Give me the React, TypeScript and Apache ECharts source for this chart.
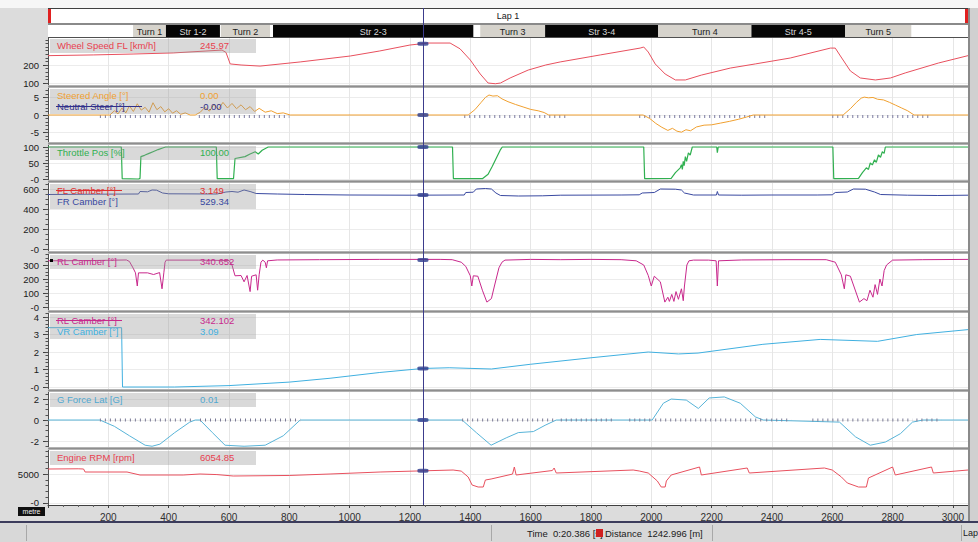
import React, { useEffect, useRef } from 'react';
import * as echarts from 'echarts';

const FONT = '"Liberation Sans", "DejaVu Sans", Arial, sans-serif';
const LAP_LENGTH = 3050;
const cursorDistance = 1242.996;
const cursorTimeText = '0:20.386 [s]';
const cursorDistText = '1242.996 [m]';

// ---- lap / segment bars ----
const lapNames = ['Lap 1'];
const lapStart = [0];
const lapEnd = [3050];

const segNames = ['Turn 1', 'Str 1-2', 'Turn 2', 'Str 2-3', 'Turn 3', 'Str 3-4', 'Turn 4', 'Str 4-5', 'Turn 5'];
const segStart = [282, 391, 573, 746, 1433, 1648, 2023, 2332, 2643];
const segEnd = [391, 570, 736, 1410, 1648, 2023, 2332, 2643, 2862];
const segIsTurn = [1, 0, 1, 0, 1, 0, 1, 0, 1];

// ---- channel data: [distance m, value] ----
const speedData = [
  [0, 252], [150, 256], [282, 261], [415, 267], [577, 283], [590, 270], [604, 206], [640, 200], [703, 194],
  [836, 217], [1002, 250], [1100, 278], [1200, 311], [1260, 322], [1333, 322], [1366, 290], [1400, 228],
  [1433, 150], [1459, 100], [1483, 96], [1500, 100], [1532, 128], [1592, 172], [1650, 200], [1698, 217],
  [1831, 256], [1963, 294], [1975, 300], [1990, 272], [2013, 206], [2046, 150], [2080, 117], [2113, 117],
  [2166, 144], [2262, 183], [2345, 206], [2461, 239], [2594, 294], [2610, 294], [2627, 250], [2660, 167],
  [2693, 128], [2743, 117], [2793, 128], [2842, 156], [2952, 211], [3050, 252],
];

const steerData = [
  [0, 0], [205, 0], [220, 1.2], [232, 0.3], [245, 2.0], [258, 0.6], [270, 2.6], [283, 1.0], [296, 3.2],
  [309, 1.4], [322, 2.2], [335, 0.8], [348, 3.5], [361, 1.5], [374, 2.4], [387, 0.9], [400, 1.8], [413, 0.5],
  [426, 1.2], [440, 0.2], [455, 0.6], [471, 0], [488, 0], [505, 0.8], [520, 2.2], [535, 1.1], [550, 3.0],
  [565, 1.6], [580, 3.6], [595, 2.0], [610, 3.3], [625, 1.8], [640, 2.9], [655, 1.5], [670, 2.4], [685, 1.0],
  [700, 1.9], [720, 0.8], [740, 1.2], [760, 0.4], [780, 0.6], [803, 0],
  [1393, 0], [1415, 1.5], [1435, 3.5], [1450, 5.0], [1462, 5.7], [1475, 5.4], [1490, 5.5], [1505, 4.6],
  [1525, 3.8], [1550, 3.0], [1575, 2.3], [1600, 1.6], [1625, 1.2], [1645, 0.7], [1660, 0],
  [1973, 0], [1995, -1.0], [2015, -2.4], [2035, -3.5], [2055, -4.4], [2070, -3.8], [2085, -4.6], [2100, -4.9],
  [2115, -4.2], [2130, -4.5], [2150, -3.4], [2175, -2.9], [2200, -2.8], [2230, -2.3], [2260, -1.8],
  [2290, -1.2], [2315, -0.6], [2338, 0],
  [2636, 0], [2660, 1.8], [2680, 3.6], [2696, 4.8], [2706, 5.1], [2720, 4.9], [2735, 5.0], [2750, 4.5],
  [2770, 4.3], [2790, 3.6], [2810, 2.8], [2830, 2.0], [2850, 1.2], [2871, 0], [3050, 0],
];

const neutralSteerData = [
  [172, -0.45], [450, -0.45], [460, '-'], [500, -0.45], [800, -0.45], [810, '-'], [1380, -0.45], [1720, -0.45],
  [1730, '-'], [1960, -0.45], [2380, -0.45], [2390, '-'], [2600, -0.45], [2930, -0.45],
];

const throttleData = [
  [0, 100], [243, 100], [246, 1], [300, 0], [305, 2], [308, 70], [320, 74], [335, 80], [350, 86], [365, 92],
  [380, 97], [390, 100], [558, 100], [561, 1], [615, 1], [620, 64], [653, 70], [670, 78], [687, 85], [697, 78],
  [710, 90], [730, 100], [1341, 100], [1344, 1], [1440, 1], [1459, 15], [1473, 40], [1486, 65], [1499, 90],
  [1506, 100], [1975, 100], [1978, 1], [2066, 2], [2080, 20], [2096, 35], [2100, 45], [2103, 30], [2106, 55],
  [2109, 42], [2113, 70], [2117, 55], [2123, 82], [2129, 75], [2136, 100], [2217, 100], [2219, 82], [2222, 100],
  [2602, 100], [2605, 1], [2687, 2], [2700, 20], [2713, 35], [2720, 30], [2726, 50], [2733, 44], [2740, 60],
  [2746, 52], [2753, 75], [2760, 68], [2766, 85], [2772, 80], [2776, 100], [3050, 100],
];

const frCamberData = [
  [0, 545], [150, 548], [300, 550], [305, 575], [330, 572], [345, 590], [360, 588], [380, 560], [400, 552],
  [560, 550], [590, 570], [610, 575], [630, 568], [650, 590], [670, 575], [690, 555], [760, 550], [850, 545],
  [1000, 540], [1200, 538], [1380, 540], [1385, 565], [1410, 568], [1420, 600], [1450, 605], [1470, 600],
  [1485, 560], [1500, 535], [1560, 530], [1640, 532], [1700, 538], [1900, 540], [1960, 542], [1970, 560],
  [2010, 565], [2030, 600], [2080, 598], [2100, 590], [2110, 560], [2140, 540], [2216, 540], [2219, 575],
  [2223, 540], [2300, 538], [2400, 540], [2550, 540], [2600, 542], [2610, 565], [2650, 570], [2670, 600],
  [2710, 598], [2740, 570], [2760, 545], [2850, 538], [2950, 535], [3050, 538],
];

const rlCamberData = [
  [0, 330], [150, 332], [260, 336], [270, 325], [282, 279], [290, 244], [296, 150], [300, 244], [330, 244],
  [350, 232], [370, 246], [378, 130], [384, 244], [388, 320], [392, 335], [500, 335], [600, 332], [610, 300],
  [620, 223], [640, 225], [650, 180], [660, 225], [670, 110], [675, 220], [690, 230], [695, 120], [700, 230],
  [706, 320], [712, 335], [720, 320], [724, 280], [728, 330], [760, 336], [900, 338], [1100, 340], [1300, 340],
  [1340, 338], [1370, 320], [1385, 290], [1400, 223], [1405, 150], [1410, 223], [1425, 220], [1440, 120],
  [1455, 35], [1470, 60], [1480, 150], [1495, 280], [1505, 320], [1515, 335], [1600, 340], [1700, 338],
  [1800, 340], [1900, 338], [1950, 330], [1975, 300], [1990, 225], [2000, 150], [2010, 220], [2030, 180],
  [2045, 35], [2055, 70], [2060, 40], [2068, 90], [2075, 40], [2082, 110], [2090, 55], [2100, 130], [2106, 45],
  [2110, 150], [2118, 300], [2125, 330], [2140, 335], [2190, 335], [2215, 330], [2219, 150], [2223, 330],
  [2300, 336], [2450, 338], [2580, 338], [2610, 320], [2630, 230], [2640, 130], [2645, 230], [2660, 220],
  [2690, 35], [2705, 60], [2715, 45], [2725, 120], [2735, 70], [2742, 160], [2750, 90], [2758, 200], [2765, 150],
  [2772, 260], [2780, 300], [2800, 335], [2900, 338], [3050, 340],
];

const vrCamberData = [
  [0, 3.39], [244, 3.39], [247, 0], [420, 0], [600, 0.08], [800, 0.28], [935, 0.5], [1100, 0.83], [1243, 1.06],
  [1330, 1.1], [1470, 1.03], [1600, 1.3], [1800, 1.67], [1990, 2.0], [2090, 1.89], [2155, 1.94], [2370, 2.44],
  [2560, 2.72], [2750, 2.61], [2880, 3.0], [3050, 3.28],
];

const gLatData = [
  [0, 0], [172, 0], [220, -0.6], [270, -1.5], [322, -2.4], [345, -2.5], [371, -2.3], [420, -1.2], [470, -0.2],
  [488, 0], [504, 0], [545, -1.2], [587, -2.4], [650, -2.5], [720, -2.4], [780, -1.5], [836, 0], [1373, 0],
  [1420, -1.2], [1469, -2.4], [1519, -1.7], [1559, -1.2], [1609, -1.1], [1648, -0.5], [1685, 0], [2003, 0],
  [2040, 1.6], [2066, 2.0], [2116, 1.9], [2156, 1.1], [2192, 2.1], [2242, 2.2], [2295, 1.6], [2345, 0.3],
  [2371, 0], [2624, -0.2], [2677, -1.6], [2726, -2.4], [2776, -2.1], [2826, -1.3], [2866, -0.2], [2900, 0],
  [3050, 0],
];

const gZoneData = [
  [172, 0], [481, 0], [490, '-'], [504, 0], [836, 0], [840, '-'], [1373, 0], [1685, 0], [1690, '-'], [1700, 0],
  [1875, 0], [1880, '-'], [1927, 0], [2003, 0], [2008, '-'], [2013, 0], [2371, 0], [2376, '-'], [2381, 0],
  [2464, 0], [2470, '-'], [2534, 0], [2866, 0], [2872, '-'], [2879, 0], [2962, 0],
];

const rpmData = [
  [0, 5862], [100, 5900], [118, 5862], [123, 5345], [262, 5345], [305, 4828], [448, 4828], [504, 5000],
  [560, 4900], [614, 4655], [800, 4750], [935, 5000], [1101, 5345], [1343, 5690], [1370, 5500], [1393, 4483],
  [1406, 3103], [1426, 2759], [1443, 2759], [1450, 3966], [1469, 4138], [1540, 4990], [1546, 6207],
  [1552, 4828], [1672, 5600], [1678, 6034], [1685, 5172], [1940, 5690], [1960, 5520], [1990, 5172],
  [2020, 3800], [2033, 2759], [2046, 2759], [2050, 3800], [2066, 4828], [2160, 6207], [2166, 4828],
  [2318, 6034], [2325, 5172], [2574, 6034], [2600, 5690], [2630, 4500], [2650, 3448], [2687, 2759],
  [2713, 2759], [2720, 4310], [2800, 6207], [2809, 4828], [2929, 6207], [2935, 5172], [3050, 5690],
];

// values of each panel's main trace at the cursor
const cursorValues = [318, 0, 100, 541, 335, 1.06, 0, 5550];

// ---- panel axes ----
const panelTops = [38, 88, 145, 183, 254, 313, 392, 450];
const panelBottoms = [85, 142, 180, 251, 310, 389, 447, 505];
const panelMins = [89, -7.7, -3.1, -20, -21.4, -0.114, -2.57, -345];
const panelMaxs = [350, 7.7, 106.25, 660, 378.6, 4.23, 2.67, 9140];
const panelTicks = [[100, 200], [-5, 0, 5], [0, 50, 100], [0, 200, 400, 600], [0, 100, 200, 300], [0, 1, 2, 3, 4], [-2, 0, 2], [0, 5000]];
const panelMinorSteps = [20, 1, 10, 50, 25, 0.2, 0.5, 1000];
const zeroTexts = ['0', '0', '-0', '-0', '-0', '-0', '0', '-0'];

const panelLabels = [
  [{ name: 'Wheel Speed FL [km/h]', value: '245.97', color: '#e8404f' }],
  [{ name: 'Steered Angle [°]', value: '0.00', color: '#f0a030' }, { name: 'Neutral Steer [°]', value: '-0.00', color: '#30308a', strike: true }],
  [{ name: 'Throttle Pos [%]', value: '100.00', color: '#30b050' }],
  [{ name: 'FL Camber [°]', value: '3.149', color: '#e03030', strike: true }, { name: 'FR Camber [°]', value: '529.34', color: '#3848a0' }],
  [{ name: 'RL Camber [°]', value: '340.652', color: '#c8288c' }],
  [{ name: 'RL Camber [°]', value: '342.102', color: '#c8288c', strike: true }, { name: 'VR Camber [°]', value: '3.09', color: '#40b0e0' }],
  [{ name: 'G Force Lat [G]', value: '0.01', color: '#50a8d0' }],
  [{ name: 'Engine RPM [rpm]', value: '6054.85', color: '#e8404f' }],
];

const range = (a: number, b: number, step: number) => {
  const out: number[] = [];
  const s = Math.ceil(a / step - 1e-9) * step;
  for (let v = s; v <= b + 1e-9; v += step) out.push(+v.toFixed(4));
  return out;
};

const GRID_LEFT = 48;
const GRID_RIGHT = 10;

function buildOption() {
  const grids: any[] = [];
  const xAxes: any[] = [];
  const yAxes: any[] = [];
  const series: any[] = [];
  const n = panelTops.length;

  for (let i = 0; i < n; i++) {
    const last = i === n - 1;
    grids.push({
      left: GRID_LEFT, right: GRID_RIGHT, top: panelTops[i], height: panelBottoms[i] - panelTops[i],
      show: true, backgroundColor: '#ffffff', borderWidth: 0, containLabel: false, outerBoundsMode: 'none',
    });
    xAxes.push({
      type: 'value', gridIndex: i, min: 0, max: LAP_LENGTH, interval: 200,
      axisLine: { show: last, onZero: false, lineStyle: { color: '#404040', width: 1 } },
      axisTick: { show: last, length: 3, lineStyle: { color: '#404040' } },
      minorTick: { show: last, splitNumber: 4, length: 2, lineStyle: { color: '#606060' } },
      axisLabel: {
        show: last, showMinLabel: false, showMaxLabel: false, fontSize: 10, color: '#303030',
        fontFamily: FONT, margin: 7, formatter: (v: number) => String(v),
      },
      splitLine: { show: true, lineStyle: { color: '#e6e6e6', width: 1 } },
    });
    const zt = zeroTexts[i];
    yAxes.push({
      type: 'value', gridIndex: i, min: panelMins[i], max: panelMaxs[i], position: 'left',
      axisLine: { show: true, onZero: false, lineStyle: { color: '#505050', width: 1 } },
      axisTick: { show: true, length: 5, customValues: panelTicks[i], lineStyle: { color: '#404040' } },
      axisLabel: {
        show: true, customValues: panelTicks[i], fontSize: 9.5, color: '#202020', fontFamily: FONT, margin: 9,
        formatter: (v: number) => (v === 0 ? zt : String(v)),
      },
      splitLine: { show: true, lineStyle: { color: '#ececec', width: 1 } },
    });
    yAxes.push({
      type: 'value', gridIndex: i, min: panelMins[i], max: panelMaxs[i], position: 'left',
      axisLine: { show: false },
      axisTick: { show: true, length: 2.5, customValues: range(panelMins[i], panelMaxs[i], panelMinorSteps[i]), lineStyle: { color: '#505050' } },
      axisLabel: { show: false },
      splitLine: { show: false },
    });
  }

  // lap bar grid (index n) and segment bar grid (index n+1)
  grids.push({ left: GRID_LEFT, right: GRID_RIGHT, top: 9, height: 14, show: true, backgroundColor: '#ffffff', borderWidth: 0, outerBoundsMode: 'none' });
  grids.push({ left: GRID_LEFT, right: GRID_RIGHT, top: 25, height: 12, show: true, backgroundColor: '#ffffff', borderWidth: 0, outerBoundsMode: 'none' });
  for (const gi of [n, n + 1]) {
    xAxes.push({ type: 'value', gridIndex: gi, min: 0, max: LAP_LENGTH, show: false });
    yAxes.push({ type: 'value', gridIndex: gi, min: 0, max: 1, show: false });
  }

  const line = (gi: number, data: any[], color: string, extra: any = {}) => ({
    type: 'line', xAxisIndex: gi, yAxisIndex: gi * 2, data, showSymbol: false, symbol: 'none',
    lineStyle: { width: 1, color }, itemStyle: { color }, silent: true, z: 3, connectNulls: false, ...extra,
  });

  series.push(line(0, speedData, '#e8505e'));
  series.push(line(1, neutralSteerData, '#6a6a98', { lineStyle: { width: 3, color: '#7a7aa0', type: [1, 4] } }));
  series.push(line(1, steerData, '#f0a030'));
  series.push(line(2, throttleData, '#30b050', { lineStyle: { width: 1.2, color: '#30b050' } }));
  series.push(line(3, frCamberData, '#3848a0'));
  series.push(line(4, rlCamberData, '#c8288c'));
  series.push(line(5, vrCamberData, '#40b0e0'));
  series.push(line(6, gLatData, '#58b4d8'));
  series.push(line(6, gZoneData, '#6a6a88', { lineStyle: { width: 3, color: '#7a7a96', type: [1, 4] } }));
  series.push(line(7, rpmData, '#e8505e'));

  for (let i = 0; i < n; i++) {
    series.push({
      type: 'scatter', xAxisIndex: i, yAxisIndex: i * 2, data: [[cursorDistance, cursorValues[i]]],
      symbol: 'roundRect', symbolSize: [11, 4], itemStyle: { color: '#2a3a8c' }, silent: true, z: 6,
    });
  }

  // lap bar
  series.push({
    type: 'custom', xAxisIndex: n, yAxisIndex: n * 2, silent: true, z: 4,
    data: lapNames.map((_, k) => [lapStart[k], lapEnd[k]]),
    renderItem: (params: any, api: any) => {
      const s = api.coord([api.value(0), 0]);
      const e = api.coord([api.value(1), 0]);
      const cs = params.coordSys;
      return {
        type: 'group',
        children: [
          { type: 'rect', shape: { x: s[0], y: cs.y, width: e[0] - s[0], height: cs.height }, style: { fill: '#ffffff' } },
          { type: 'rect', shape: { x: s[0], y: cs.y, width: 3, height: cs.height }, style: { fill: '#e02020' } },
          { type: 'rect', shape: { x: e[0] - 3, y: cs.y, width: 3, height: cs.height }, style: { fill: '#e02020' } },
          {
            type: 'text', x: (s[0] + e[0]) / 2, y: cs.y + cs.height / 2,
            style: { text: lapNames[params.dataIndex], align: 'center', verticalAlign: 'middle', fill: '#202020', font: `9px ${FONT}` },
          },
        ],
      };
    },
  });

  // segment bar
  series.push({
    type: 'custom', xAxisIndex: n + 1, yAxisIndex: (n + 1) * 2 - 1, silent: true, z: 4,
    data: segNames.map((_, k) => [segStart[k], segEnd[k], segIsTurn[k]]),
    renderItem: (params: any, api: any) => {
      const s = api.coord([api.value(0), 0]);
      const e = api.coord([api.value(1), 0]);
      const cs = params.coordSys;
      const turn = api.value(2) === 1;
      return {
        type: 'group',
        children: [
          { type: 'rect', shape: { x: s[0], y: cs.y, width: e[0] - s[0], height: cs.height }, style: { fill: turn ? '#d6d3cc' : '#060606' } },
          {
            type: 'text', x: (s[0] + e[0]) / 2, y: cs.y + cs.height / 2 + 0.5,
            style: { text: segNames[params.dataIndex], align: 'center', verticalAlign: 'middle', fill: turn ? '#202020' : '#d8d8d8', font: `9px ${FONT}` },
          },
        ],
      };
    },
  });

  return {
    animation: false,
    backgroundColor: '#dcdcdc',
    grid: grids,
    xAxis: xAxes,
    yAxis: yAxes,
    series,
  };
}

function buildGraphics(cx: number) {
  const g: any[] = [];
  const plotRight = 978 - GRID_RIGHT;
  // top white strip
  g.push({ type: 'rect', shape: { x: 0, y: 0, width: 978, height: 8 }, style: { fill: '#f6f6f6' }, z: 1 });
  g.push({ type: 'rect', shape: { x: GRID_LEFT, y: 8, width: plotRight - GRID_LEFT, height: 1 }, style: { fill: '#404040' }, z: 1 });
  g.push({ type: 'rect', shape: { x: GRID_LEFT, y: 23, width: plotRight - GRID_LEFT, height: 2 }, style: { fill: '#8a8a8a' }, z: 1 });
  g.push({ type: 'rect', shape: { x: GRID_LEFT, y: 37, width: plotRight - GRID_LEFT, height: 1 }, style: { fill: '#505050' }, z: 1 });
  // separators between panels
  for (let i = 0; i < panelTops.length - 1; i++) {
    const y = panelBottoms[i];
    const h = panelTops[i + 1] - y;
    g.push({ type: 'rect', shape: { x: GRID_LEFT, y, width: plotRight - GRID_LEFT, height: h }, style: { fill: '#b2b2b2' }, z: 1 });
    g.push({ type: 'rect', shape: { x: GRID_LEFT, y: y + 1, width: plotRight - GRID_LEFT, height: 1 }, style: { fill: '#8e8e8e' }, z: 1 });
  }
  // right border strip
  g.push({ type: 'rect', shape: { x: plotRight, y: 8, width: 2, height: 514 }, style: { fill: '#8a8a8a' }, z: 1 });
  g.push({ type: 'rect', shape: { x: plotRight + 2, y: 8, width: 978 - plotRight - 2, height: 514 }, style: { fill: '#d0d0d0' }, z: 1 });

  // labels
  panelLabels.forEach((lines, i) => {
    const top = panelTops[i];
    g.push({
      type: 'rect', shape: { x: 50, y: top + 1, width: 206, height: lines.length * 11 + 3 },
      style: { fill: 'rgba(150,150,150,0.36)' }, z: 50,
    });
    lines.forEach((l: any, k: number) => {
      const cy = top + 7 + k * 11;
      g.push({ type: 'text', x: 57, y: cy, style: { text: l.name, fill: l.color, font: `9.5px ${FONT}`, verticalAlign: 'middle' }, z: 51 });
      g.push({ type: 'text', x: 200, y: cy, style: { text: l.value, fill: l.color, font: `9.5px ${FONT}`, verticalAlign: 'middle' }, z: 51 });
      if (l.strike) {
        g.push({ type: 'line', shape: { x1: 56, y1: cy + 0.5, x2: 57 + l.name.length * 5, y2: cy + 0.5 }, style: { stroke: l.color, lineWidth: 1 }, z: 52 });
      }
    });
  });
  // small black marker beside RL label
  g.push({ type: 'rect', shape: { x: 50, y: panelTops[4] + 5, width: 3, height: 3 }, style: { fill: '#000' }, z: 52 });

  // cursor line
  const x = Math.round(cx) + 0.5;
  g.push({ type: 'line', shape: { x1: x, y1: 8, x2: x, y2: panelBottoms[panelBottoms.length - 1] }, style: { stroke: '#3c3c8c', lineWidth: 1 }, z: 40 });

  // bottom area
  g.push({ type: 'rect', shape: { x: 18, y: 507, width: 27, height: 9 }, style: { fill: '#101010' }, z: 10 });
  g.push({ type: 'text', x: 31.5, y: 511.5, style: { text: 'metre', fill: '#f0f0f0', font: `7px ${FONT}`, align: 'center', verticalAlign: 'middle' }, z: 11 });
  g.push({ type: 'rect', shape: { x: 0, y: 521, width: 978, height: 2 }, style: { fill: '#3c3c5c' }, z: 10 });
  g.push({ type: 'rect', shape: { x: 0, y: 523, width: 978, height: 19 }, style: { fill: '#d8d8d8' }, z: 10 });
  for (const dx of [26, 491, 712, 961]) {
    g.push({ type: 'rect', shape: { x: dx, y: 525, width: 1, height: 16 }, style: { fill: '#a8a8a8' }, z: 11 });
  }
  g.push({ type: 'text', x: 527, y: 533, style: { text: 'Time  ' + cursorTimeText, fill: '#202020', font: `9.5px ${FONT}`, verticalAlign: 'middle' }, z: 11 });
  g.push({ type: 'rect', shape: { x: 596, y: 529, width: 7, height: 8 }, style: { fill: '#d02020' }, z: 11 });
  g.push({ type: 'text', x: 605, y: 533, style: { text: 'Distance  ' + cursorDistText, fill: '#202020', font: `9.5px ${FONT}`, verticalAlign: 'middle' }, z: 11 });
  g.push({ type: 'text', x: 963, y: 533, style: { text: 'Lap', fill: '#202020', font: `9px ${FONT}`, verticalAlign: 'middle' }, z: 11 });
  return g;
}

export default function App() {
  const ref = useRef<HTMLDivElement>(null);
  useEffect(() => {
    const el = ref.current;
    if (!el) return;
    const chart = echarts.init(el, null, { renderer: 'svg', width: 978, height: 542 });
    chart.setOption(buildOption() as any);
    const cx = chart.convertToPixel({ xAxisIndex: 0 } as any, cursorDistance) as unknown as number;
    chart.setOption({ graphic: buildGraphics(cx) } as any);
    return () => chart.dispose();
  }, []);
  return <div ref={ref} style={{ position: 'fixed', left: 0, top: 0, width: 978, height: 542 }} />;
}
